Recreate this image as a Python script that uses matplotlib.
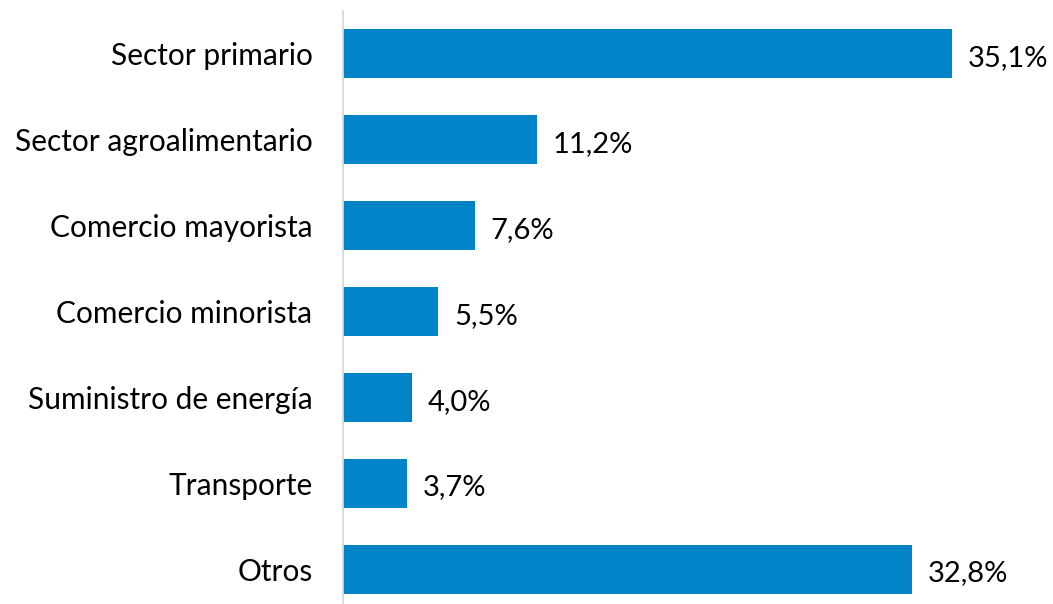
import matplotlib
matplotlib.use("Agg")
import matplotlib.pyplot as plt

categories = ["Sector primario", "Sector agroalimentario", "Comercio mayorista",
              "Comercio minorista", "Suministro de energía", "Transporte", "Otros"]
values = [35.1, 11.2, 7.6, 5.5, 4.0, 3.7, 32.8]
labels = ["35,1%", "11,2%", "7,6%", "5,5%", "4,0%", "3,7%", "32,8%"]

plt.rcParams['font.family'] = ['Lato', 'DejaVu Sans']

fig = plt.figure(figsize=(10.53, 6.04), dpi=100)
ax = fig.add_axes([343/1053, -8/604, 697/1053, 601/604])

y = list(range(len(categories)))
ax.barh(y, values, height=0.57, color="#0084C8")
for yi, v, lab in zip(y, values, labels):
    ax.text(v + 0.9, yi + 0.05, lab, va="center", ha="left", fontsize=21, color="black")

ax.set_ylim(len(categories) - 0.5, -0.5)
ax.set_xlim(0, 697 / 17.35)
ax.set_yticks(y)
ax.set_yticklabels(categories, fontsize=21.5)
ax.tick_params(axis="y", length=0, pad=22)
ax.set_xticks([])
for s in ["top", "right", "bottom"]:
    ax.spines[s].set_visible(False)
ax.spines["left"].set_color("#D9D9D9")
ax.spines["left"].set_linewidth(1.3)

fig.savefig("out.png", dpi=100)
